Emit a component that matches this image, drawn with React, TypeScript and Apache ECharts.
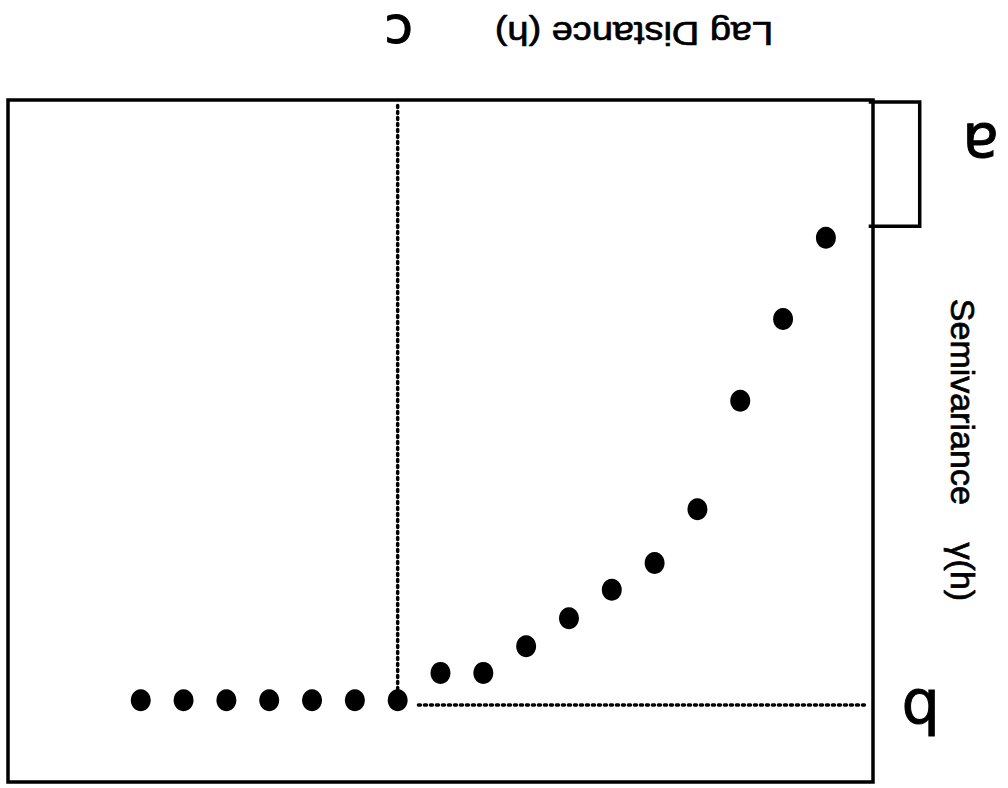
import React, { useEffect, useRef } from "react";
import * as echarts from "echarts";

// Lag index of each point (lag distance units)
const lags = [1, 2, 3, 4, 5, 6, 7, 8, 9, 10, 11, 12, 13, 14, 15, 16, 17];
// Semivariance γ(h) for each lag
const semivariance = [2.02, 3.21, 4.41, 6.0, 6.79, 7.18, 7.6, 8.01, 8.4, 8.4, 8.8, 8.8, 8.8, 8.8, 8.8, 8.8, 8.8];
const nugget = 1.85; // a
const sill = 8.87; // b
const rangeLag = 11; // c
const xTitle = "Lag Distance (h)";
const yTitle = "Semivariance    γ(h)";
const markLabels = ["a", "b", "c"];

export default function App() {
  const ref = useRef<HTMLDivElement>(null);
  useEffect(() => {
    if (!ref.current) return;
    const chart = echarts.init(ref.current, null, { renderer: "svg" });
    const grid = { left: 8, right: 135, top: 100, bottom: 6 };
    chart.setOption({
      animation: false,
      backgroundColor: "#ffffff",
      grid: { ...grid, show: true, borderColor: "#000", borderWidth: 3.5, backgroundColor: "transparent" },
      xAxis: {
        type: "value",
        min: -0.1,
        max: 20.1,
        inverse: true,
        axisLine: { show: false },
        axisTick: { show: false },
        axisLabel: { show: false },
        splitLine: { show: false },
      },
      yAxis: {
        type: "value",
        min: 0,
        max: 10,
        inverse: true,
        axisLine: { show: false },
        axisTick: { show: false },
        axisLabel: { show: false },
        splitLine: { show: false },
      },
      series: [
        {
          type: "line",
          data: [[rangeLag, 0.08], [rangeLag, sill - 0.22]],
          symbol: "none",
          lineStyle: { color: "#000", width: 3.5, type: [2, 4], cap: "round", opacity: 1 },
          z: 1,
        },
        {
          type: "line",
          data: [[0.1, sill], [rangeLag - 0.4, sill]],
          symbol: "none",
          lineStyle: { color: "#000", width: 3.5, type: [2, 4], cap: "round", opacity: 1 },
          z: 1,
        },
        {
          type: "scatter",
          data: lags.map((l, i) => [l, semivariance[i]]),
          symbol: "circle",
          symbolSize: [20, 22],
          itemStyle: { color: "#000", opacity: 1 },
          z: 3,
        },
      ],
    });

    const p0 = chart.convertToPixel({ gridIndex: 0 }, [0, 0]) as number[];
    const pN = chart.convertToPixel({ gridIndex: 0 }, [0, nugget]) as number[];
    const pS = chart.convertToPixel({ gridIndex: 0 }, [0, sill]) as number[];
    const pR = chart.convertToPixel({ gridIndex: 0 }, [rangeLag, 0]) as number[];
    const rightX = p0[0];
    const topY = p0[1];

    const titleStyle = {
      fill: "#000",
      stroke: "#000",
      lineWidth: 0.7,
      align: "center",
      verticalAlign: "middle",
    };
    const letterStyle = {
      fill: "#000",
      stroke: "#000",
      lineWidth: 1,
      align: "center",
      verticalAlign: "middle",
    };

    chart.setOption({
      graphic: [
        {
          type: "polyline",
          shape: {
            points: [
              [rightX, topY + 2],
              [rightX + 51, topY + 2],
              [rightX + 51, pN[1]],
              [rightX, pN[1]],
            ],
          },
          style: { stroke: "#000", lineWidth: 3.5, fill: "none" },
        },
        {
          type: "text",
          x: rightX + 112,
          y: (topY + pN[1]) / 2 - 18,
          rotation: Math.PI,
          style: { ...letterStyle, text: markLabels[0], font: "60px 'DejaVu Sans', sans-serif" },
        },
        {
          type: "text",
          x: rightX + 52,
          y: pS[1] + 6,
          rotation: Math.PI,
          style: { ...letterStyle, text: markLabels[1], font: "60px 'DejaVu Sans', sans-serif" },
        },
        {
          type: "text",
          x: pR[0] + 1,
          y: topY - 67,
          rotation: Math.PI,
          style: { ...letterStyle, text: markLabels[2], font: "52px 'DejaVu Sans', sans-serif" },
        },
        {
          type: "text",
          x: 634,
          y: 33,
          rotation: Math.PI,
          scaleX: 1.15,
          style: { ...titleStyle, text: xTitle, font: "33px 'Liberation Sans', Arial, sans-serif" },
        },
        {
          type: "text",
          x: 963,
          y: 450,
          rotation: -Math.PI / 2,
          style: { ...titleStyle, text: yTitle, font: "34px 'Liberation Sans', Arial, sans-serif" },
        },
      ],
    });

    return () => chart.dispose();
  }, []);
  return <div ref={ref} style={{ width: 1008, height: 788, position: "absolute", left: 0, top: 0 }} />;
}
